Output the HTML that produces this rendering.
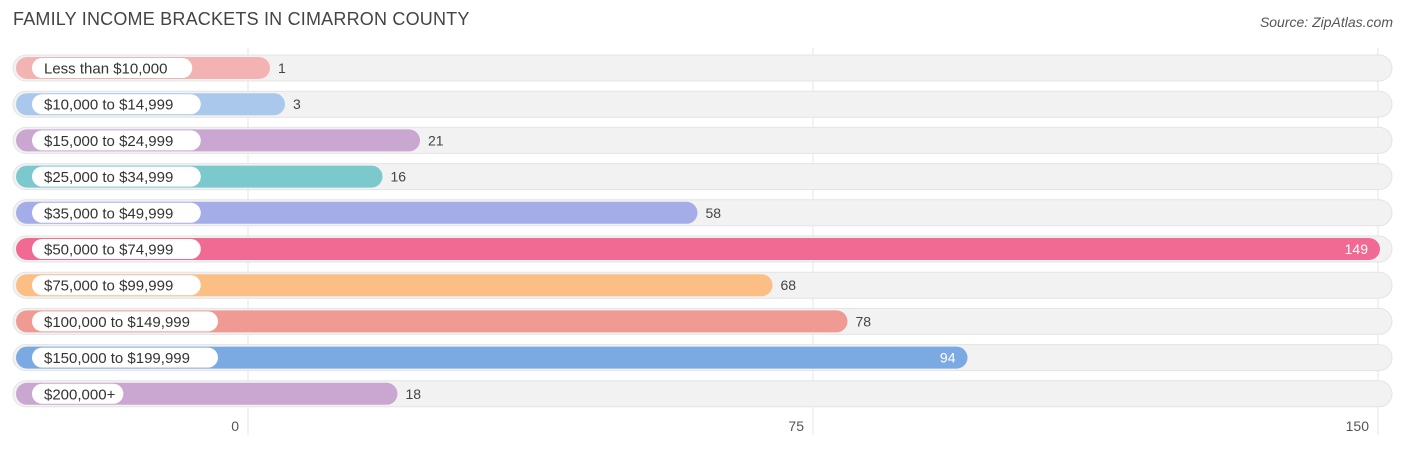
<!DOCTYPE html>
<html><head><meta charset="utf-8"><style>
body{margin:0;background:#fff;font-family:"Liberation Sans",sans-serif;}
#c{position:relative;width:1406px;height:449px;overflow:hidden;}
.title{position:absolute;left:13px;top:9px;font-size:18px;color:#444;letter-spacing:0.2px}
.src{position:absolute;right:13px;top:14px;font-size:14px;color:#555;font-style:italic}
</style></head><body>
<div id="c">
<div class="title">FAMILY INCOME BRACKETS IN CIMARRON COUNTY</div>
<div class="src">Source: ZipAtlas.com</div>
<svg id="s" width="1406" height="449" style="position:absolute;left:0;top:0"></svg>
</div>
<script>
const categories=["Less than $10,000","$10,000 to $14,999","$15,000 to $24,999","$25,000 to $34,999","$35,000 to $49,999","$50,000 to $74,999","$75,000 to $99,999","$100,000 to $149,999","$150,000 to $199,999","$200,000+"];
const values=[1,3,21,16,58,149,68,78,94,18];
const colors=["#f4b3b3","#a9c8ec","#c9a7d0","#7cc9cd","#a5ade8","#f06a94","#fbbe85","#ef9a92","#7ba9e1","#c9a7d0"];
const ticks=[0,75,150];
const NS="http://www.w3.org/2000/svg";
const s=document.getElementById('s');
function gx(v){return 248+v*(565/75);}
function bx(v){return 262.5+v*7.5;}
function ry(i){return 68+i*36.2;}
function mk(t,a){const e=document.createElementNS(NS,t);for(const k in a)e.setAttribute(k,a[k]);s.appendChild(e);return e;}
ticks.forEach(t=>{
 const l=mk('line',{x1:gx(t),x2:gx(t),y1:48,y2:435,stroke:'#e6e6e6','stroke-width':1});
 
 
});
categories.forEach((c,i)=>{
 const y=ry(i);
 const tr=mk('rect',{x:13,y:y-13,width:1379,height:26,rx:13,fill:'#f2f2f2',stroke:'#e4e4e4'});
 
 
 const b=mk('rect',{x:16,y:y-11,width:bx(values[i])-16,height:22,rx:11,fill:colors[i]});
 
 
 const tw=c.length*8.6+14;
 const p=mk('rect',{x:32,y:y-10,width:tw,height:20,rx:10,fill:'#fff'});
 
 
 const t=mk('text',{x:44,y:y+5.5,'font-size':15,fill:'#333'});t.textContent=c;
 
 
 const inside=values[i]>85;
 const v=mk('text',{x:inside?bx(values[i])-12:bx(values[i])+8,y:y+5,'font-size':14,fill:inside?'#fff':'#444','text-anchor':inside?'end':'start'});
 v.textContent=values[i];
 
 
});
ticks.forEach(t=>{
 const e=mk('text',{x:gx(t)-9,y:431,'font-size':14,fill:'#555','text-anchor':'end'});e.textContent=t;
 
 
});
</script>
</body></html>
